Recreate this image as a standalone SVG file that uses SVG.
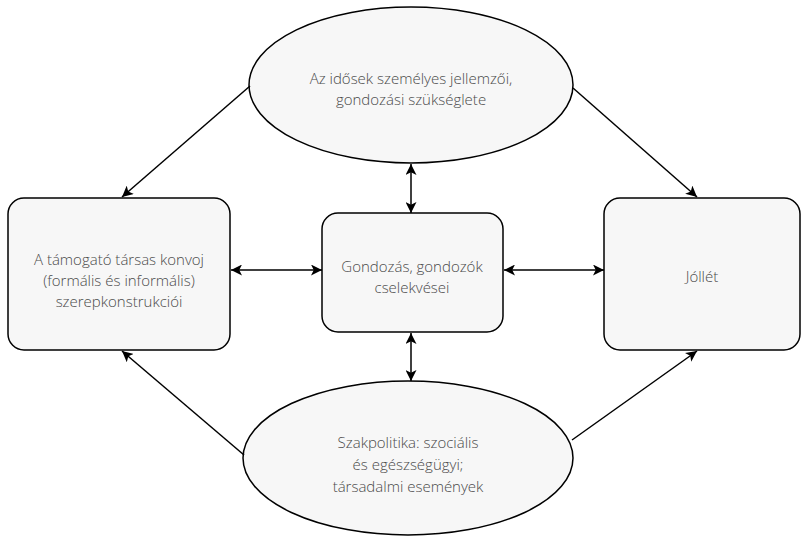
<svg xmlns="http://www.w3.org/2000/svg" width="801" height="536" viewBox="0 0 801 536">
<defs>
<style>
.n{fill:#f7f7f7;stroke:#000;stroke-width:1.5}
.t{font-family:"Open Sans","Liberation Sans",sans-serif;font-size:15px;fill:#4a4a4a;text-anchor:middle;font-weight:300}
.c{stroke:#000;stroke-width:1.5;fill:none}
</style>
<marker id="a" viewBox="0 0 10 10" refX="10" refY="5" markerWidth="11" markerHeight="11" markerUnits="userSpaceOnUse" orient="auto-start-reverse">
<path d="M0,0 L10,5 L0,10 L2.5,5 Z" fill="#000"/>
</marker>
</defs>
<rect width="801" height="536" fill="#fff"/>
<g id="top">
<ellipse class="n" cx="411" cy="85" rx="162" ry="78"/>
<text class="t" x="411" y="84">Az idősek személyes jellemzői,</text>
<text class="t" x="411" y="105">gondozási szükséglete</text>
</g>
<g id="left">
<rect class="n" x="8" y="198" width="222" height="152" rx="16"/>
<text class="t" x="119" y="265">A támogató társas konvoj</text>
<text class="t" x="119" y="286">(formális és informális)</text>
<text class="t" x="119" y="307">szerepkonstrukciói</text>
</g>
<g id="mid">
<rect class="n" x="322" y="213" width="181" height="119" rx="16"/>
<text class="t" x="412" y="272">Gondozás, gondozók</text>
<text class="t" x="412" y="293">cselekvései</text>
</g>
<g id="right">
<rect class="n" x="604" y="198" width="196" height="152" rx="16"/>
<text class="t" x="702" y="282">Jóllét</text>
</g>
<g id="bottom">
<ellipse class="n" cx="408" cy="458" rx="165" ry="77"/>
<text class="t" x="408" y="448">Szakpolitika: szociális</text>
<text class="t" x="408" y="470">és egészségügyi;</text>
<text class="t" x="408" y="492">társadalmi események</text>
</g>
<g id="connectors">
<path class="c" d="M250,86 L122,197" marker-end="url(#a)"/>
<path class="c" d="M573,88 L697,197" marker-end="url(#a)"/>
<path class="c" d="M411,164 L411,213" marker-start="url(#a)" marker-end="url(#a)"/>
<path class="c" d="M231,270 L322,270" marker-start="url(#a)" marker-end="url(#a)"/>
<path class="c" d="M504,270 L604,270" marker-start="url(#a)" marker-end="url(#a)"/>
<path class="c" d="M411,333 L411,381" marker-start="url(#a)" marker-end="url(#a)"/>
<path class="c" d="M244,455 L122,351" marker-end="url(#a)"/>
<path class="c" d="M572,440 L697,351" marker-end="url(#a)"/>
</g>
</svg>
